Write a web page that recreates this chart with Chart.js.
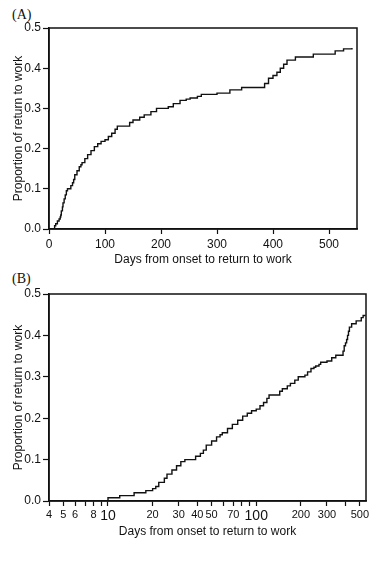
<!DOCTYPE html>
<html>
<head>
<meta charset="utf-8">
<script src="https://cdn.jsdelivr.net/npm/chart.js@4.4.0/dist/chart.umd.min.js"></script>
<style>
    body { margin: 0; background: #fff; width: 390px; height: 567px; position: relative; overflow: hidden; }
    .panel { position: absolute; left: 0; width: 390px; }
    .tag { position: absolute; left: 12px; font: 14px "Liberation Serif", serif; color: #111; }
</style>
</head>
<body>
<div class="tag" style="top: 7px;">(A)</div>
<div class="panel" style="top: 0; height: 270px;"><canvas id="chart-a" width="390" height="270"></canvas></div>
<div class="tag" style="top: 271px;">(B)</div>
<div class="panel" style="top: 270px; height: 297px;"><canvas id="chart-b" width="390" height="297"></canvas></div>

<script>
// Step points of the cumulative curve: day of the step, proportion after it
const days = [0, 10, 12, 15, 18, 20, 21, 22, 24, 25, 27, 29, 31, 33, 39, 42, 44, 46, 50, 54,
    57, 59, 64, 69, 75, 81, 87, 93, 100, 106, 112, 118, 122, 144, 150, 162, 170, 182, 192, 213,
    222, 234, 245, 252, 265, 272, 300, 323, 344, 385, 392, 400, 407, 413, 419, 425, 440, 472, 511, 526, 541];
const proportion = [0, 0.008, 0.013, 0.02, 0.025, 0.03, 0.035, 0.045, 0.055, 0.065, 0.075, 0.085, 0.095, 0.1, 0.108, 0.115, 0.123, 0.135, 0.145, 0.155,
    0.16, 0.165, 0.175, 0.185, 0.195, 0.205, 0.212, 0.218, 0.222, 0.23, 0.238, 0.248, 0.256, 0.265, 0.271, 0.278, 0.284, 0.292, 0.3, 0.304,
    0.312, 0.32, 0.323, 0.326, 0.33, 0.335, 0.338, 0.346, 0.352, 0.362, 0.375, 0.382, 0.39, 0.4, 0.41, 0.42, 0.428, 0.435, 0.443, 0.448, 0.45];

// Axis ticks
const yTicks = [0, 0.1, 0.2, 0.3, 0.4, 0.5];
const linearDayTicks = [0, 100, 200, 300, 400, 500];
const logDayTicks = [4, 5, 6, 7, 8, 9, 10, 20, 30, 40, 50, 60, 70, 80, 90, 100, 200, 300, 400, 500];
const logDayLabels = [4, 5, 6, 8, 10, 20, 30, 40, 50, 70, 100, 200, 300, 500];
const bigDayLabels = [10, 100];

const xTitle = 'Days from onset to return to work';
const yTitle = 'Proportion of return to work';
const FONT = '"Liberation Sans", Arial, sans-serif';

// Draw the box round the plot area
const framePlugin = {
    id: 'frame',
    afterDatasetsDraw(chart) {
        const { ctx, chartArea: a } = chart;
        ctx.save();
        ctx.strokeStyle = '#111';
        ctx.lineWidth = 1.5;
        ctx.strokeRect(a.left, a.top, a.right - a.left, a.bottom - a.top);
        ctx.restore();
    }
};

function yScale() {
    return {
        min: 0, max: 0.5,
        afterFit: s => { s.width = 49; },
        afterBuildTicks: s => { s.ticks = yTicks.map(v => ({ value: v })); },
        border: { color: '#111', width: 1.5 },
        grid: { drawOnChartArea: false, color: '#111', tickLength: 6, tickWidth: 1.2 },
        ticks: { color: '#111', padding: 2, font: { family: FONT, size: 12 }, callback: v => v.toFixed(1) },
        title: { display: true, text: yTitle, color: '#111', font: { family: FONT, size: 12 }, padding: { top: 11 } }
    };
}

function curve(points) {
    return {
        data: points,
        stepped: true,
        borderColor: '#111',
        borderWidth: 1.4,
        pointRadius: 0,
        fill: false
    };
}

function makeChart(id, xOptions, points, bottomAxisHeight, titleGap, pad) {
    return new Chart(document.getElementById(id), {
        type: 'line',
        data: { datasets: [curve(points)] },
        options: {
            responsive: false,
            animation: false,
            layout: { padding: pad },
            plugins: { legend: { display: false }, tooltip: { enabled: false } },
            scales: {
                x: Object.assign({
                    afterFit: s => { s.height = bottomAxisHeight; },
                    border: { color: '#111', width: 1.5 },
                    grid: { drawOnChartArea: false, color: '#111', tickLength: 5, tickWidth: 1.2 },
                    title: { display: true, text: xTitle, color: '#111', font: { family: FONT, size: 12 }, padding: { bottom: titleGap } }
                }, xOptions),
                y: yScale()
            }
        },
        plugins: [framePlugin]
    });
}

// (A) linear day axis
makeChart('chart-a', {
    type: 'linear',
    min: 0, max: 550,
    afterBuildTicks: s => { s.ticks = linearDayTicks.map(v => ({ value: v })); },
    ticks: { color: '#111', padding: 3, maxRotation: 0, font: { family: FONT, size: 12 } }
}, days.map((d, i) => ({ x: d, y: proportion[i] })), 41, 3, { top: 28, right: 33, left: 0, bottom: 0 });

// (B) log day axis, day 0 pinned to the axis start
makeChart('chart-b', {
    type: 'logarithmic',
    min: 4, max: 550,
    afterBuildTicks: s => { s.ticks = logDayTicks.map(v => ({ value: v })); },
    ticks: {
        color: '#111', padding: 2, maxRotation: 0, autoSkip: false,
        font: c => ({ family: FONT, size: c.tick && bigDayLabels.includes(c.tick.value) ? 14 : 11 }),
        callback: v => logDayLabels.includes(v) ? String(v) : ''
    }
}, days.map((d, i) => ({ x: Math.max(d, 4), y: proportion[i] })), 66, 28, { top: 24, right: 24, left: 0, bottom: 0 });
</script>
</body>
</html>
